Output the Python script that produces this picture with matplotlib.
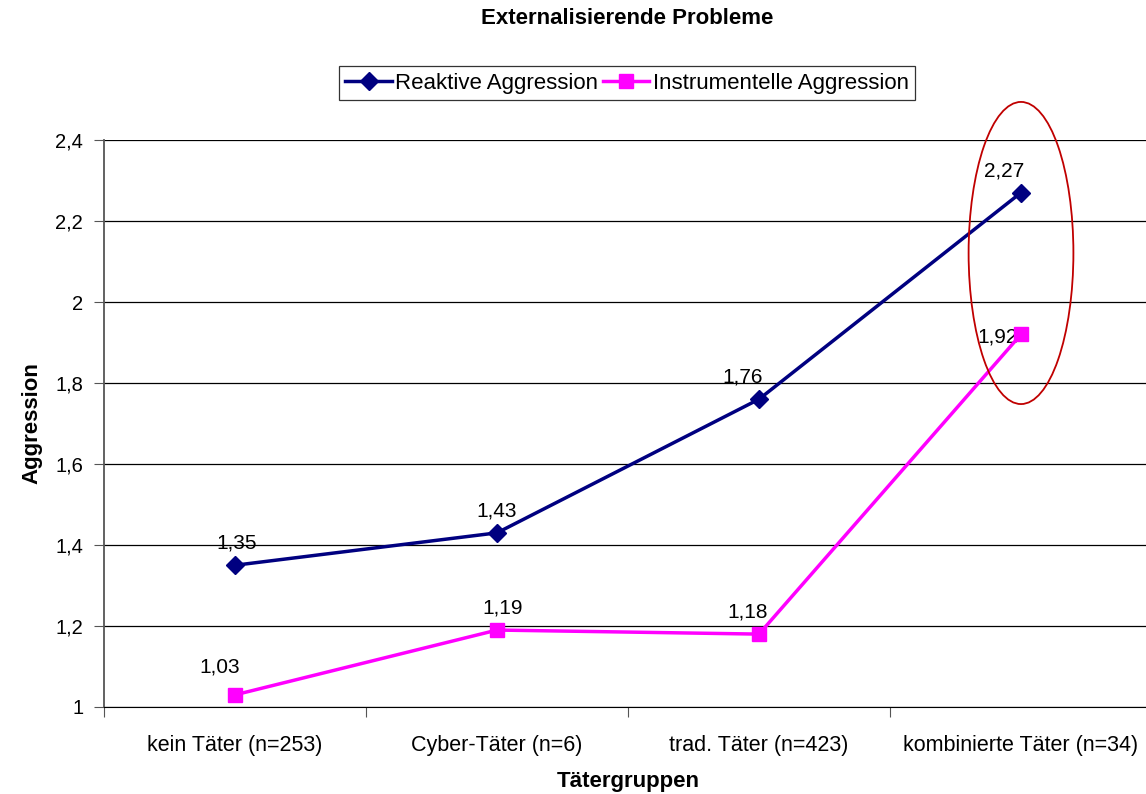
import matplotlib.pyplot as plt
from matplotlib.patches import Ellipse
from matplotlib.ticker import FuncFormatter, FixedLocator, NullFormatter

plt.rcParams['font.family'] = ['Liberation Sans', 'DejaVu Sans']

# Werte je Tätergruppe
gruppen = ['kein Täter (n=253)', 'Cyber-Täter (n=6)', 'trad. Täter (n=423)', 'kombinierte Täter (n=34)']
reaktiv = [1.35, 1.43, 1.76, 2.27]
instrumentell = [1.03, 1.19, 1.18, 1.92]

# Versatz der Datenbeschriftungen (Punkte)
off_reaktiv = [(1, 9), (0, 9), (-12, 9), (-12, 9)]
off_instr = [(-11, 13), (4, 9), (-8, 9), (-17, -9)]

fig = plt.figure(figsize=(11.46, 7.94), dpi=100)
ax = fig.add_axes([104 / 1146, 1 - 707 / 794, 1048 / 1146, 567 / 794])

x = list(range(len(gruppen)))
ax.plot(x, reaktiv, color='#000080', lw=2.5, marker='D', ms=9,
        label='Reaktive Aggression', zorder=4)
ax.plot(x, instrumentell, color='#FF00FF', lw=2.5, marker='s', ms=10,
        label='Instrumentelle Aggression', zorder=4)

for xi, v, (dx, dy) in zip(x, reaktiv, off_reaktiv):
    ax.annotate(f'{v:.2f}'.replace('.', ','), (xi, v), xytext=(dx, dy),
                textcoords='offset points', ha='center', va='bottom', fontsize=15)
for xi, v, (dx, dy) in zip(x, instrumentell, off_instr):
    ax.annotate(f'{v:.2f}'.replace('.', ','), (xi, v), xytext=(dx, dy),
                textcoords='offset points', ha='center', va='bottom', fontsize=15)

# Markierung der kombinierten Täter
ax.add_patch(Ellipse((3, 2.121), 0.40, 0.746, fill=False, edgecolor='#C00000',
                     lw=1.3, zorder=5, clip_on=False))

ax.set_xlim(-0.5, 3.5)
ax.set_ylim(1, 2.4)
ax.set_yticks([1, 1.2, 1.4, 1.6, 1.8, 2, 2.2, 2.4])
ax.yaxis.set_major_formatter(FuncFormatter(lambda v, p: f'{v:g}'.replace('.', ',')))
ax.grid(axis='y', color='#000000', lw=0.9)
ax.set_axisbelow(True)

ax.xaxis.set_major_locator(FixedLocator([-0.5, 0.5, 1.5, 2.5, 3.5]))
ax.xaxis.set_major_formatter(NullFormatter())
ax.xaxis.set_minor_locator(FixedLocator(x))
ax.set_xticklabels(gruppen, minor=True)
ax.tick_params(axis='x', which='minor', length=0, pad=20, labelsize=15.5)
ax.tick_params(axis='x', which='major', length=7, direction='out', color='#555555')
ax.tick_params(axis='y', length=7, direction='out', labelsize=14.5, color='#555555', pad=8)

for side in ['top', 'right']:
    ax.spines[side].set_visible(False)
ax.spines['left'].set_color('#555555')
ax.spines['left'].set_linewidth(1.3)
ax.spines['bottom'].set_color('#000000')

ax.set_xlabel('Tätergruppen', fontsize=16, fontweight='bold', labelpad=11)
ax.set_ylabel('Aggression', fontsize=16, fontweight='bold')
ax.yaxis.set_label_coords((42 - 104) / 1048, 0.5)

fig.text(627 / 1146, 1 - 19 / 794, 'Externalisierende Probleme', ha='center', va='center',
         fontsize=16, fontweight='bold')

leg = fig.legend(loc='center', bbox_to_anchor=(627 / 1146, 1 - 83 / 794), ncol=2,
                 frameon=True, fancybox=False, fontsize=16, handlelength=2.1,
                 handletextpad=0.15, columnspacing=0.2, borderpad=0.3,
                 borderaxespad=0)
leg.get_frame().set_edgecolor('#000000')
leg.get_frame().set_linewidth(0.9)

fig.savefig('out.png', dpi=100)
